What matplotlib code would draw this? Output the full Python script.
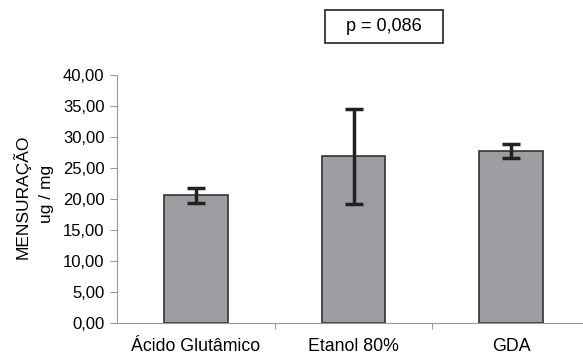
import matplotlib.pyplot as plt
from matplotlib.patches import Rectangle

plt.rcParams['font.family'] = ['Liberation Sans', 'DejaVu Sans']

grupos = ['Ácido Glutâmico', 'Etanol 80%', 'GDA']
medias = [20.6, 26.9, 27.7]
erros = [1.2, 7.7, 1.1]
y_ticks = [0, 5, 10, 15, 20, 25, 30, 35, 40]

fig = plt.figure(figsize=(5.83, 3.56), dpi=100)
ax = fig.add_axes([0.2007, 0.0935, 0.7993, 0.6955])

x = range(len(grupos))
ax.bar(x, medias, width=0.405, color='#9d9ea2', edgecolor='#333333', linewidth=1.2,
       yerr=erros, error_kw=dict(ecolor='#222222', elinewidth=2.5, capsize=6.8, capthick=2.5))

ax.set_ylim(0, 40)
ax.set_xlim(-0.5, 2.455)
ax.set_yticks(y_ticks)
ax.set_yticklabels([f'{v:.2f}'.replace('.', ',') for v in y_ticks], fontsize=12)
ax.set_xticks([0.5, 1.5])
ax.set_xticklabels(['', ''])
ax.set_xticks(list(x), minor=True)
ax.set_xticklabels(grupos, minor=True, fontsize=12.8)
ax.tick_params(axis='x', which='minor', length=0, pad=11)
ax.tick_params(axis='x', which='major', length=4, color='#999999')
ax.tick_params(axis='y', length=5, color='#999999', pad=4)

for s in ['top', 'right']:
    ax.spines[s].set_visible(False)
for s in ['left', 'bottom']:
    ax.spines[s].set_color('#999999')

fig.text(0.037, 0.447, 'MENSURAÇÃO', rotation=90, ha='center', va='center', fontsize=12.5)
fig.text(0.080, 0.454, 'ug / mg', rotation=90, ha='center', va='center', fontsize=12.5)

# caixa com o valor de p
fig.patches.append(Rectangle((0.5576, 0.8792), 0.2024, 0.0927, transform=fig.transFigure,
                             facecolor='white', edgecolor='#222222', linewidth=1.2))
fig.text(0.659, 0.9256, 'p = 0,086', ha='center', va='center', fontsize=13)

fig.savefig('out.png', dpi=100)
